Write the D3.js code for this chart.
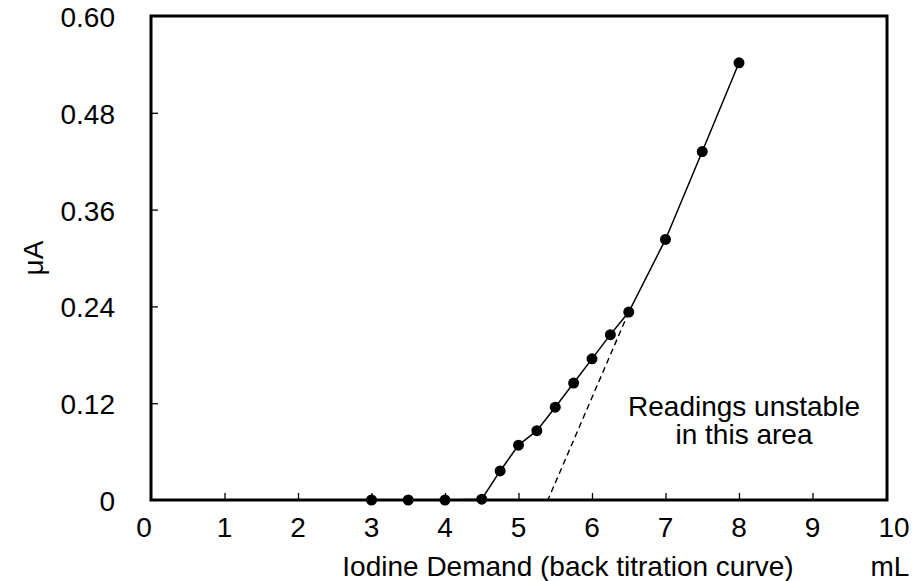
<!DOCTYPE html>
<html>
<head>
<meta charset="utf-8">
<script src="https://cdn.jsdelivr.net/npm/d3@7"></script>
<style>
  body { margin: 0; background: #fff; }
  text { font-family: "Liberation Sans", Arial, sans-serif; fill: #000; }
</style>
</head>
<body>
<svg id="chart" width="915" height="581"></svg>
<script>
// titration readings
var volume = [3, 3.5, 4, 4.5, 4.75, 5, 5.25, 5.5, 5.75, 6, 6.25, 6.5, 7, 7.5, 8];
var current = [0, 0, 0, 0.001, 0.036, 0.068, 0.086, 0.115, 0.145, 0.175, 0.205, 0.233, 0.323, 0.432, 0.542];

// extrapolated dashed line
var tangentX = [6.5, 5.4];
var tangentY = [0.233, 0];

var xTicks = [0, 1, 2, 3, 4, 5, 6, 7, 8, 9, 10];
var yTicks = [0, 0.12, 0.24, 0.36, 0.48, 0.60];
var yTickLabels = ["0", "0.12", "0.24", "0.36", "0.48", "0.60"];

var svg = d3.select("#chart");
var plotLeft = 151, plotRight = 886, plotTop = 16, plotBottom = 500;
var fontSize = 28;

var x = d3.scaleLinear().domain([0, 10]).range([plotLeft, plotRight]);
var y = d3.scaleLinear().domain([0, 0.6]).range([plotBottom, plotTop]);

// inner ticks
svg.append("g").attr("transform", "translate(0," + plotBottom + ")")
    .call(d3.axisTop(x).tickValues(xTicks.slice(1, -1)).tickSize(7).tickFormat(""))
    .call(function (g) { g.select(".domain").remove(); })
    .selectAll("line").attr("stroke-width", 1.3);

svg.append("g").attr("transform", "translate(" + plotLeft + ",0)")
    .call(d3.axisRight(y).tickValues(yTicks.slice(1, -1)).tickSize(7).tickFormat(""))
    .call(function (g) { g.select(".domain").remove(); })
    .selectAll("line").attr("stroke-width", 1.3);

// frame
svg.append("rect")
    .attr("x", plotLeft).attr("y", plotTop)
    .attr("width", plotRight - plotLeft + 1).attr("height", plotBottom - plotTop)
    .attr("fill", "none").attr("stroke", "#000").attr("stroke-width", 3);

// tick labels
svg.selectAll("text.xl").data(xTicks).enter().append("text")
    .attr("class", "xl")
    .attr("x", function (d) { return x(d) - (d === 0 ? 7 : 0) + (d === 10 ? 8 : 0); })
    .attr("y", 537)
    .attr("text-anchor", "middle")
    .attr("font-size", fontSize)
    .text(function (d) { return d; });

svg.selectAll("text.yl").data(yTicks).enter().append("text")
    .attr("class", "yl")
    .attr("x", 115)
    .attr("y", function (d) { return y(d) + 11; })
    .attr("text-anchor", "end")
    .attr("font-size", fontSize)
    .text(function (d, i) { return yTickLabels[i]; });

// axis titles
svg.append("text")
    .attr("x", 568).attr("y", 576)
    .attr("text-anchor", "middle").attr("font-size", fontSize)
    .text("Iodine Demand (back titration curve)");

svg.append("text")
    .attr("x", 890).attr("y", 576)
    .attr("text-anchor", "middle").attr("font-size", fontSize)
    .text("mL");

svg.append("text")
    .attr("transform", "translate(43,258) rotate(-90)")
    .attr("text-anchor", "middle").attr("font-size", fontSize)
    .text("μA");

// tangent
svg.append("line")
    .attr("x1", x(tangentX[0])).attr("y1", y(tangentY[0]))
    .attr("x2", x(tangentX[1])).attr("y2", y(tangentY[1]))
    .attr("stroke", "#000").attr("stroke-width", 1.4)
    .attr("stroke-dasharray", "6,4");

// data line and points
var pts = volume.map(function (v, i) { return [v, current[i]]; });
var line = d3.line().x(function (d) { return x(d[0]); }).y(function (d) { return y(d[1]); });

svg.append("path").datum(pts)
    .attr("d", line)
    .attr("fill", "none").attr("stroke", "#000").attr("stroke-width", 1.5);

svg.selectAll("circle").data(pts).enter().append("circle")
    .attr("cx", function (d) { return x(d[0]); })
    .attr("cy", function (d) { return y(d[1]); })
    .attr("r", 5.5)
    .attr("fill", "#000");

// annotation
svg.append("text")
    .attr("x", 744).attr("y", 416)
    .attr("text-anchor", "middle").attr("font-size", fontSize)
    .text("Readings unstable");
svg.append("text")
    .attr("x", 744).attr("y", 444)
    .attr("text-anchor", "middle").attr("font-size", fontSize)
    .text("in this area");
</script>
</body>
</html>
